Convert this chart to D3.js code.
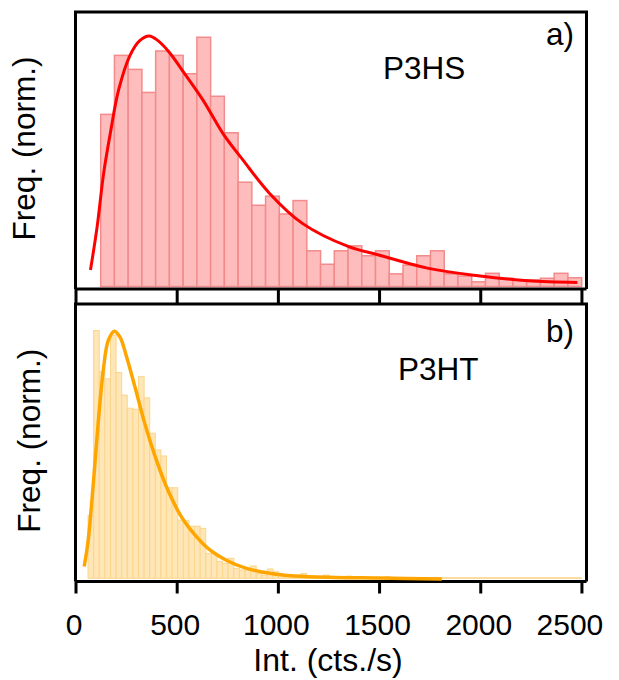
<!DOCTYPE html>
<html>
<head>
<meta charset="utf-8">
<script src="https://d3js.org/d3.v7.min.js"></script>
<style>
  body { margin: 0; background: #fff; }
  text { font-family: "Liberation Sans", Arial, Helvetica, sans-serif; fill: #000; }
</style>
</head>
<body>
<div id="chart"></div>
<script>
// ---- data ----
const xTicks = [0, 500, 1000, 1500, 2000, 2500];

// a) P3HS histogram (normalized heights), bins start at 124.5 cts/s, 67.9 wide
const hsBinStart = 124.5;
const hsBinWidth = 67.9;
const hsFreq = [0.627, 0.842, 0.791, 0.707, 0.858, 0.842, 0.775, 0.908, 0.693, 0.560,
                0.380, 0.296, 0.329, 0.264, 0.313, 0.130, 0.081, 0.130, 0.148, 0.112,
                0.130, 0.046, 0.078, 0.112, 0.130, 0.046, 0.038, 0.017, 0.048, 0.030,
                0.024, 0.024, 0.030, 0.048, 0.032];
// fit curve for P3HS: [intensity, freq]
const hsFit = [[74, 0.060], [107, 0.218], [139, 0.412], [172, 0.558], [213, 0.716],
               [270, 0.843], [316, 0.895], [364, 0.913], [409, 0.895], [467, 0.850],
               [532, 0.783], [630, 0.679], [728, 0.558], [827, 0.461], [958, 0.340],
               [1121, 0.230], [1350, 0.145], [1498, 0.115], [1744, 0.066], [1989, 0.039],
               [2235, 0.021], [2480, 0.015]];

// b) P3HT histogram, bins start at 62 cts/s, 27.7 wide
const htBinStart = 62;
const htBinWidth = 27.7;
const htFreq = [0.230, 0.903, 0.753, 0.727, 0.887, 0.750, 0.668, 0.620, 0.616, 0.735,
                0.658, 0.529, 0.468, 0.446, 0.330, 0.330, 0.212, 0.210, 0.190, 0.190,
                0.182, 0.091, 0.091, 0.061, 0.055, 0.073, 0.036, 0.030, 0.030, 0.045,
                0.018, 0.012, 0.034, 0.024, 0.012, 0.008, 0.006, 0.006, 0.018, 0.006,
                0.005, 0.006, 0.012, 0.004, 0.004, 0.003, 0.008, 0.003, 0.003, 0.002,
                0.003, 0.002, 0.002, 0.006, 0.002, 0.002, 0.002, 0.002, 0.002, 0.002,
                0.002, 0.002, 0.002, 0.002, 0.002, 0.002, 0.002, 0.002, 0.002, 0.002,
                0.002, 0.002, 0.002, 0.002, 0.002, 0.002, 0.002, 0.002, 0.002, 0.002,
                0.002, 0.002, 0.002, 0.002, 0.002, 0.002, 0.002, 0.002];
const htFit = [[43, 0.043], [63, 0.140], [88, 0.345], [113, 0.575], [137, 0.757],
               [162, 0.867], [192, 0.901], [220, 0.879], [253, 0.806], [294, 0.697],
               [343, 0.563], [401, 0.428], [458, 0.319], [525, 0.222], [590, 0.158],
               [656, 0.108], [755, 0.062], [837, 0.038], [952, 0.019], [1084, 0.008],
               [1282, 0.003], [1500, 0.001], [1810, -0.003]];

// ---- layout ----
const width = 619, height = 680;
const left = 75.5, right = 586.5;

const svg = d3.select("#chart").append("svg")
    .attr("width", width)
    .attr("height", height);

const x = d3.scaleLinear().domain([0, 2525]).range([left, right]);

const panels = [
    { id: "a", name: "P3HS", top: 12, base: 286.5, axisY: 289, tickLen: 14,
      start: hsBinStart, bw: hsBinWidth, freq: hsFreq, fit: hsFit,
      fill: "#ffbcbc", edge: "#f28b8b", edgeW: 1.5, line: "#ff0000", lineW: 3,
      labelX: 383, labelY: 79, tagY: 45, yLab: 35 },
    { id: "b", name: "P3HT", top: 304, base: 578.3, axisY: 581.5, tickLen: 12,
      start: htBinStart, bw: htBinWidth, freq: htFreq, fit: htFit,
      fill: "#ffe6b6", edge: "#fbd58c", edgeW: 1, line: "#ffa500", lineW: 3.5,
      labelX: 398, labelY: 380, tagY: 342, yLab: 40 }
];

panels.forEach((p, k) => {
    const y = d3.scaleLinear().domain([0, 1]).range([p.base, p.top]);
    const g = svg.append("g");

    // bars
    g.selectAll("rect")
        .data(p.freq)
        .join("rect")
        .attr("x", (d, i) => x(p.start + i * p.bw))
        .attr("width", x(p.bw) - x(0))
        .attr("y", d => y(d))
        .attr("height", d => y(0) - y(d))
        .attr("fill", p.fill)
        .attr("stroke", p.edge)
        .attr("stroke-width", p.edgeW);

    // frame (left, top, right)
    g.append("path")
        .attr("d", `M${left},${p.axisY} V${p.top} H${right} V${p.axisY}`)
        .attr("fill", "none")
        .attr("stroke", "#000")
        .attr("stroke-width", 3);

    // x axis
    const axis = d3.axisBottom(x)
        .tickValues(xTicks)
        .tickSize(p.tickLen)
        .tickSizeOuter(0)
        .tickFormat(k === 0 ? "" : d3.format("d"));
    const ax = g.append("g")
        .attr("transform", `translate(0,${p.axisY})`)
        .call(axis);
    ax.select(".domain")
        .attr("d", `M${left},0 H${right}`)
        .attr("stroke-width", 3);
    ax.selectAll(".tick line").attr("stroke-width", 3);
    ax.selectAll(".tick text")
        .attr("font-size", 30)
        .attr("font-family", null)
        .attr("y", 53.5)
        .attr("dy", null)
        .attr("dx", d => d === 2500 ? -12 : -2);

    // fit curve
    const line = d3.line()
        .x(d => x(d[0]))
        .y(d => y(d[1]))
        .curve(d3.curveCatmullRom);
    g.append("path")
        .datum(p.fit)
        .attr("d", line)
        .attr("fill", "none")
        .attr("stroke", p.line)
        .attr("stroke-width", p.lineW)
        .attr("stroke-linejoin", "round");

    // labels
    g.append("text")
        .attr("x", p.labelX)
        .attr("y", p.labelY)
        .attr("font-size", 31.5)
        .text(p.name);
    g.append("text")
        .attr("x", 574)
        .attr("y", p.tagY)
        .attr("text-anchor", "end")
        .attr("font-size", 31.5)
        .text(p.id + ")");
    g.append("text")
        .attr("transform", `translate(${p.yLab},${(p.top + p.axisY) / 2 - 2}) rotate(-90)`)
        .attr("text-anchor", "middle")
        .attr("font-size", 31.5)
        .text("Freq. (norm.)");
});

// x title
svg.append("text")
    .attr("x", 328)
    .attr("y", 671)
    .attr("text-anchor", "middle")
    .attr("font-size", 32)
    .text("Int. (cts./s)");
</script>
</body>
</html>
